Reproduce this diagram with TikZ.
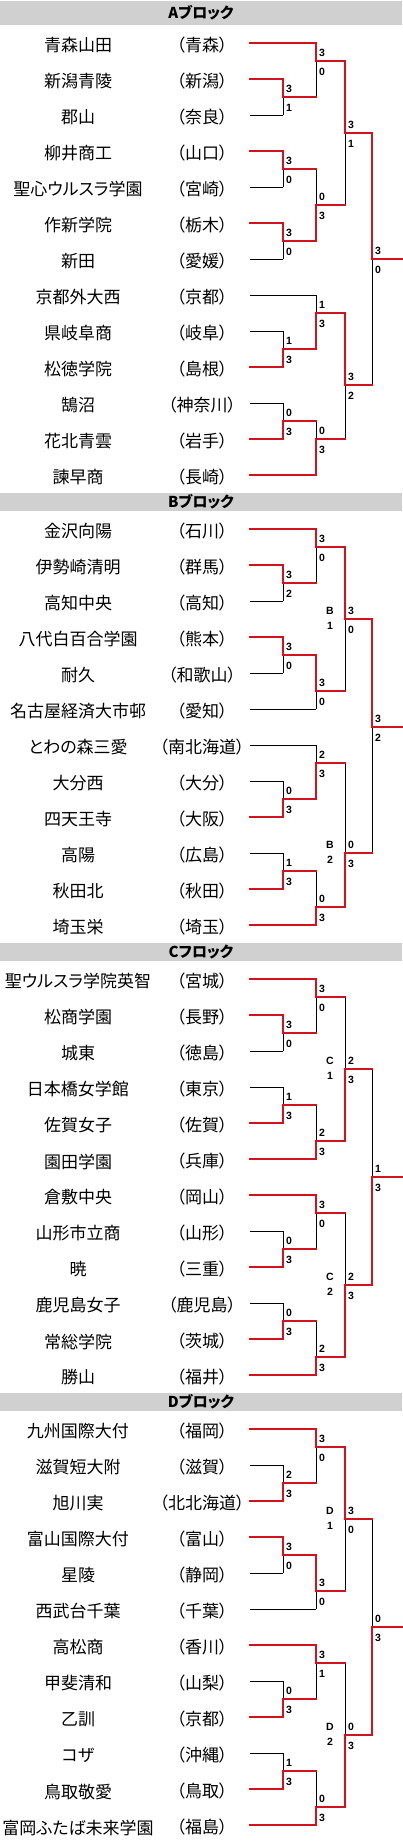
\documentclass[tikz,border=0pt]{standalone}
\usepackage{fontspec}
\setmainfont{Noto Sans CJK JP}[RawFeature=+palt]
\newfontfamily\scorefont{Liberation Sans}
\usepackage{tikz}
\definecolor{winred}{RGB}{210,18,28}
\definecolor{headgray}{RGB}{208,208,208}

\begin{document}
\begin{tikzpicture}[x=1pt, y=-1pt,
            win/.style={color=winred, line width=1.8pt, line cap=rect},
            lose/.style={color=black, line width=0.8pt},
            team/.style={font=\fontsize{17}{17}\selectfont, inner sep=0},
            pref/.style={font=\fontsize{17}{17}\selectfont, inner sep=0},
            score/.style={font=\scorefont\bfseries\fontsize{10.5}{11}\selectfont, inner sep=0, anchor=west},
            subblock/.style={font=\scorefont\bfseries\fontsize{10.5}{15}\selectfont, inner sep=0, align=center},
            headtext/.style={font=\bfseries\fontsize{15}{15}\selectfont, inner sep=0}
        ]
            \useasboundingbox (0,0) rectangle (402,1844);

            % block headers
            \foreach \ya/\yb/\t [count=\i] in {1/25/Aブロック, 493/511/Bブロック, 943/961/Cフロック, 1393/1411/Dブロック}{
                \fill[headgray] (0,\ya) rectangle (402,\yb);
                \node[headtext] (head\i) at (201,{(\ya+\yb)/2}) {\t};
            }

            % teams (name, prefecture, first line)
            \foreach \y/\n/\p/\xe/\st [count=\i] in {
                43/青森山田/青森/316/win, 79/新潟青陵/新潟/283/win, 115/郡山/奈良/283/lose,
                151/柳井商工/山口/283/win, 187/聖心ウルスラ学園/宮崎/283/lose, 223/作新学院/栃木/283/win,
                259/新田/愛媛/283/lose, 295/京都外大西/京都/316/lose, 331/県岐阜商/岐阜/283/lose,
                367/松徳学院/島根/283/win, 403/鵠沼/神奈川/283/lose, 439/花北青雲/岩手/283/win,
                475/諫早商/長崎/316/win,
                529/金沢向陽/石川/316/win, 565/伊勢崎清明/群馬/283/win, 601/高知中央/高知/283/lose,
                637/八代白百合学園/熊本/283/win, 673/耐久/和歌山/283/lose, 709/名古屋経済大市邨/愛知/316/lose,
                745/とわの森三愛/南北海道/316/lose, 781/大分西/大分/283/lose, 817/四天王寺/大阪/283/win,
                853/高陽/広島/283/lose, 889/秋田北/秋田/283/win, 925/埼玉栄/埼玉/316/win,
                979/聖ウルスラ学院英智/宮城/316/win, 1015/松商学園/長野/283/win, 1051/城東/徳島/283/lose,
                1087/日本橋女学館/東京/283/lose, 1123/佐賀女子/佐賀/283/win, 1159/園田学園/兵庫/316/win,
                1195/倉敷中央/岡山/316/win, 1231/山形市立商/山形/283/lose, 1267/暁/三重/283/win,
                1303/鹿児島女子/鹿児島/283/lose, 1339/常総学院/茨城/283/win, 1375/勝山/福井/316/win,
                1429/九州国際大付/福岡/316/win, 1465/滋賀短大附/滋賀/283/lose, 1501/旭川実/北北海道/283/win,
                1537/富山国際大付/富山/283/win, 1573/星陵/静岡/283/lose, 1609/西武台千葉/千葉/316/lose,
                1645/高松商/香川/316/win, 1681/甲斐清和/山梨/283/lose, 1717/乙訓/京都/283/win,
                1753/コザ/沖縄/283/lose, 1789/鳥取敬愛/鳥取/283/win, 1825/富岡ふたば未来学園/福島/316/win}{
                \node[team] (team\i) at (78,\y+2.5) {\n};
                \node[pref] (pref\i) at (202,\y+2.5) {（\p）};
                \draw[\st] (250,\y) -- (\xe,\y);
            }

            % matches: x / top / bottom / out / scores / winner side / next x
            \def\matches{
                283/79/115/97/3/1/79/316, 316/43/97/61/3/0/43/345, 283/151/187/169/3/0/151/316,
                283/223/259/241/3/0/223/316, 316/169/241/205/0/3/241/345, 345/61/205/133/3/1/61/372,
                283/331/367/349/1/3/367/316, 316/295/349/313/1/3/349/345, 283/403/439/421/0/3/439/316,
                316/421/475/439/0/3/475/345, 345/313/439/385/3/2/313/372, 372/133/385/259/3/0/133/402,
                283/565/601/583/3/2/565/316, 316/529/583/547/3/0/529/345, 283/637/673/655/3/0/637/316,
                316/655/709/691/3/0/655/345, 345/547/691/619/3/0/547/372, 283/781/817/799/0/3/817/316,
                316/745/799/763/2/3/799/345, 283/853/889/871/1/3/889/316, 316/871/925/907/0/3/925/345,
                345/763/907/853/0/3/907/372, 372/619/853/727/3/2/619/402,
                283/1015/1051/1033/3/0/1015/316, 316/979/1033/997/3/0/979/345, 283/1087/1123/1105/1/3/1123/316,
                316/1105/1159/1141/2/3/1159/345, 345/997/1141/1069/2/3/1141/372, 283/1231/1267/1249/0/3/1267/316,
                316/1195/1249/1213/3/0/1195/345, 283/1303/1339/1321/0/3/1339/316, 316/1321/1375/1357/2/3/1375/345,
                345/1213/1357/1285/2/3/1357/372, 372/1069/1285/1177/1/3/1285/402,
                283/1465/1501/1483/2/3/1501/316, 316/1429/1483/1447/3/0/1429/345, 283/1537/1573/1555/3/0/1537/316,
                316/1555/1609/1591/3/0/1555/345, 345/1447/1591/1519/3/0/1447/372, 283/1681/1717/1699/0/3/1717/316,
                316/1645/1699/1663/3/1/1645/345, 283/1753/1789/1771/1/3/1789/316, 316/1771/1825/1807/0/3/1825/345,
                345/1663/1807/1735/0/3/1807/372, 372/1519/1735/1627/0/3/1735/402}

            % losing side first, in black
            \foreach \x/\ya/\yb/\yo/\sa/\sb/\yw/\xn in \matches{
                \draw[lose] (\x,\ya) -- (\x,\yb);
            }
            % winning side and scores
            \foreach \x/\ya/\yb/\yo/\sa/\sb/\yw/\xn [count=\i] in \matches{
                \draw[win] (\x,\yw) -- (\x,\yo) -- (\xn,\yo);
                \node[score] (top\i) at (\x+3,\yo-8) {\sa};
                \node[score] (bot\i) at (\x+3,\yo+11) {\sb};
            }

            % sub-block marks
            \foreach \y/\l/\k [count=\i] in {619/B/1, 853/B/2, 1069/C/1, 1285/C/2, 1519/D/1, 1735/D/2}{
                \node[subblock] (sub\i) at (330,\y-0.5) {\l\\\k};
            }

        \end{tikzpicture}
\end{document}
